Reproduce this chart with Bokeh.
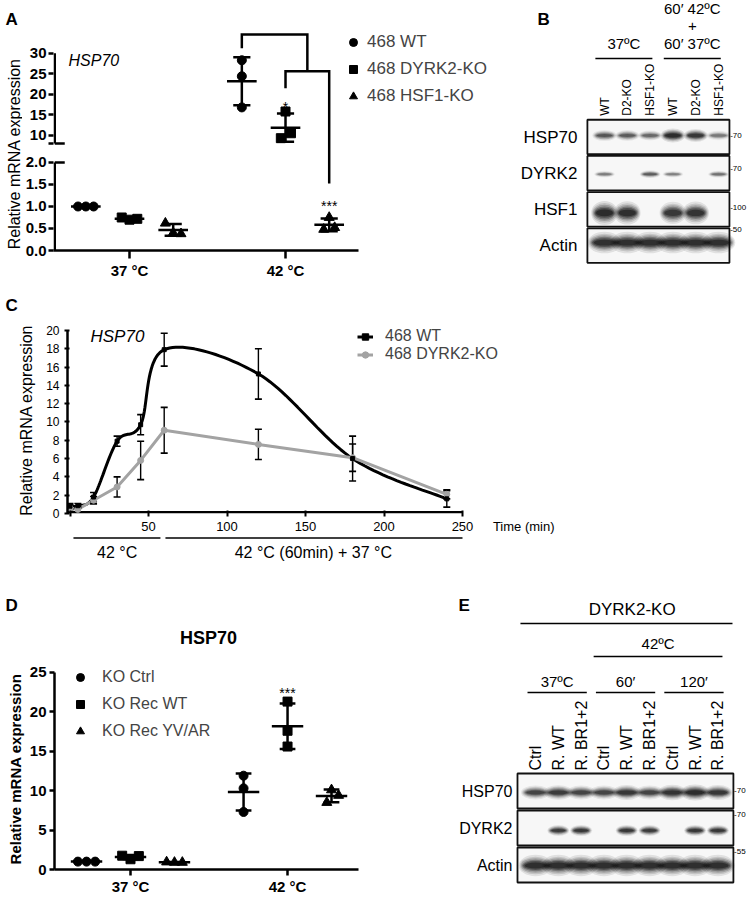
import math
import statistics as st
from bokeh.plotting import figure
from bokeh.models import Range1d, FixedTicker, Legend, LegendItem
from bokeh.layouts import column, row
from bokeh.embed import file_html
from bokeh.resources import INLINE
from bokeh.core.properties import value

FONT = "Liberation Sans"

# ---------------- data ----------------
# Panel A : HSP70 mRNA (three replicates per condition)
A_groups = ["37 °C", "42 °C"]
A_series = ["468 WT", "468 DYRK2-KO", "468 HSF1-KO"]
A_wt = [[1.00, 1.00, 1.00], [28.3, 24.4, 16.8]]
A_d2ko = [[0.75, 0.70, 0.72], [15.8, 10.5, 9.3]]
A_hsf1ko = [[0.62, 0.40, 0.38], [0.75, 0.48, 0.52]]
A_ticks_low = [0.0, 0.5, 1.0, 1.5, 2.0]
A_ticks_high = [10, 15, 20, 25, 30]
A_break = [2.0, 8.0]
A_stars = ["*", "***"]

# Panel B : western blot (band intensity 0..1)
B_lanes = ["WT", "D2-KO", "HSF1-KO", "WT", "D2-KO", "HSF1-KO"]
B_rows = ["HSP70", "DYRK2", "HSF1", "Actin"]
B_hsp70 = [0.55, 0.50, 0.40, 1.00, 0.85, 0.30]
B_dyrk2 = [0.28, 0.00, 0.50, 0.25, 0.00, 0.35]
B_hsf1 = [1.00, 0.95, 0.00, 0.85, 0.90, 0.00]
B_actin = [0.95, 0.95, 0.95, 0.95, 0.95, 0.95]
B_mw = ["70", "70", "100", "50"]
B_conditions = ["37ºC", "60′ 37ºC"]
B_header = ["60′ 42ºC", "+"]

# Panel C : time course
C_time = [0, 5, 15, 30, 45, 60, 120, 180, 240]
C_wt = [0.8, 0.85, 1.8, 7.9, 9.7, 17.9, 15.25, 6.0, 1.6]
C_wt_sd = [0.3, 0.25, 0.5, 0.55, 1.1, 1.8, 2.75, 2.45, 0.9]
C_ko = [0.6, 0.45, 1.45, 2.9, 5.8, 9.1, 7.55, 6.1, 2.1]
C_ko_sd = [0.35, 0.3, 0.4, 1.1, 2.1, 2.5, 1.65, 1.5, 0.5]
C_series = ["468 WT", "468 DYRK2-KO"]
C_xticks = [0, 50, 100, 150, 200, 250]
C_yticks = [0, 2, 4, 6, 8, 10, 12, 14, 16, 18, 20]
C_xlabel = "Time (min)"
C_phase_start = [0, 60]
C_phase_end = [60, 250]
C_phase_label = ["42 °C", "42 °C (60min) + 37 °C"]

# Panel D
D_groups = ["37 °C", "42 °C"]
D_series = ["KO Ctrl", "KO Rec WT", "KO Rec YV/AR"]
D_ctrl = [[1.0, 1.0, 1.0], [11.9, 10.3, 7.3]]
D_recwt = [[1.75, 1.3, 1.7], [21.3, 17.6, 15.6]]
D_yvar = [[0.95, 0.9, 0.9], [10.1, 8.5, 9.4]]
D_yticks = [0, 5, 10, 15, 20, 25]

# Panel E : western blot
E_lanes = ["Ctrl", "R. WT", "R. BR1+2"] * 3
E_rows = ["HSP70", "DYRK2", "Actin"]
E_hsp70 = [0.70, 0.80, 0.70, 0.70, 0.85, 0.70, 0.90, 1.00, 0.85]
E_dyrk2 = [0.00, 0.80, 0.85, 0.00, 0.85, 0.80, 0.00, 0.85, 0.85]
E_actin = [0.95, 0.95, 0.95, 0.95, 0.95, 0.95, 0.95, 0.95, 0.95]
E_mw = ["70", "70", "55"]
E_groups = ["37ºC", "60′", "120′"]


# ---------------- helpers ----------------
def finish(p):
    p.outline_line_color = None
    p.background_fill_color = "white"
    p.border_fill_color = "white"
    if "frame_align" in p.properties():
        p.frame_align = False
    return p


def axis_fig(**kw):
    p = figure(output_backend="svg", toolbar_location=None, tools="", **kw)
    p.grid.visible = False
    return finish(p)


def plain_fig(w, h, xr, yr):
    p = figure(width=w, height=h, x_range=xr, y_range=yr, x_axis_type=None, y_axis_type=None,
               output_backend="svg", toolbar_location=None, tools="", min_border=0,
               min_border_left=0, min_border_right=0, min_border_top=0, min_border_bottom=0)
    return finish(p)


def style_axis(ax, size, bold=False, lw=2.5, tin=0, tout=5, standoff=3):
    ax.major_label_text_font = FONT
    ax.major_label_text_font_size = size
    ax.major_label_text_font_style = "bold" if bold else "normal"
    ax.major_label_text_color = "black"
    ax.axis_line_width = lw
    ax.axis_line_color = "black"
    ax.major_tick_line_width = lw
    ax.major_tick_line_color = "black"
    ax.major_tick_in = tin
    ax.major_tick_out = tout
    ax.minor_tick_line_color = None
    ax.major_label_standoff = standoff
    ax.axis_label_text_font = FONT
    ax.axis_label_text_color = "black"


def txt(p, xs, ys, texts, size, style="normal", align="left", baseline="middle", angle=0.0):
    p.text(x=list(xs), y=list(ys), text=list(texts), text_font=value(FONT), text_font_size=value(size),
           text_font_style=value(style), text_align=align, text_baseline=baseline, angle=angle,
           text_color="black")


def dot_plot(p, series_vals, offsets, jitter, markers, sizes, ymap, mean_hw, cap_hw, lw):
    rends = []
    mx0, mx1, my = [], [], []
    ex, ey0, ey1 = [], [], []
    cx0, cx1, cy = [], [], []
    for s, vals in enumerate(series_vals):
        xs, ys = [], []
        for g, grp in enumerate(vals):
            cx = g + offsets[s]
            for k, v in enumerate(grp):
                xs.append(cx + jitter[g][s][k])
                ys.append(ymap(v))
            m = st.mean(grp)
            sd = st.stdev(grp)
            mx0.append(cx - mean_hw); mx1.append(cx + mean_hw); my.append(ymap(m))
            ex.append(cx); ey0.append(ymap(m - sd)); ey1.append(ymap(m + sd))
            for yy in (m - sd, m + sd):
                cx0.append(cx - cap_hw); cx1.append(cx + cap_hw); cy.append(ymap(yy))
        r = p.scatter(xs, ys, marker=markers[s], size=sizes[s], fill_color="black", line_color="black")
        rends.append(r)
    p.segment(ex, ey0, ex, ey1, line_width=lw, line_color="black")
    p.segment(mx0, my, mx1, my, line_width=lw, line_color="black")
    p.segment(cx0, cy, cx1, cy, line_width=lw, line_color="black")
    return rends


def blot(p, rows_vals, px_x, px_y, box_x0, box_x1, box_h, band_w, band_h, band_dy):
    n = len(rows_vals)
    ys = [n - 1 - r for r in range(n)]
    p.rect(x=[(box_x0 + box_x1) / 2] * n, y=ys, width=box_x1 - box_x0, height=box_h,
           fill_color="#f7f7f7", line_color="#111111", line_width=1.8)
    # soft bands: many faint concentric ellipses
    layers = [(1.16, 2.0, 0.10), (1.08, 1.65, 0.14), (1.00, 1.35, 0.20),
              (0.92, 1.08, 0.28), (0.84, 0.82, 0.38), (0.74, 0.55, 0.50)]
    for wf, hf, af in layers:
        X, Y, W, H, AL = [], [], [], [], []
        for r, vals in enumerate(rows_vals):
            for l, inten in enumerate(vals):
                if inten <= 0.02:
                    continue
                X.append(l)
                Y.append(n - 1 - r - band_dy[r] / px_y)
                W.append(band_w[r] * wf / px_x)
                H.append(band_h[r] * (0.55 + 0.45 * inten) * hf / px_y)
                AL.append(min(1.0, af * (0.2 + 0.8 * inten)))
        p.ellipse(x=X, y=Y, width=W, height=H, fill_color="#0c0c0c", fill_alpha=AL, line_color=None)


def smooth(xs, ys, sx, sy, n=24):
    P = [(x * sx, y * sy) for x, y in zip(xs, ys)]
    ox, oy = [], []
    for i in range(len(P) - 1):
        p0 = P[i - 1] if i > 0 else P[i]
        p1, p2 = P[i], P[i + 1]
        p3 = P[i + 2] if i + 2 < len(P) else P[i + 1]
        c1 = (p1[0] + (p2[0] - p0[0]) / 6, p1[1] + (p2[1] - p0[1]) / 6)
        c2 = (p2[0] - (p3[0] - p1[0]) / 6, p2[1] - (p3[1] - p1[1]) / 6)
        last = i == len(P) - 2
        for k in range(n + 1 if last else n):
            t = k / n
            a, b, c, d = (1 - t) ** 3, 3 * (1 - t) ** 2 * t, 3 * (1 - t) * t ** 2, t ** 3
            ox.append((a * p1[0] + b * c1[0] + c * c2[0] + d * p2[0]) / sx)
            oy.append((a * p1[1] + b * c1[1] + c * c2[1] + d * p2[1]) / sy)
    return ox, oy


# ================= Row 1 : panel A =================
stripA = plain_fig(22, 290, Range1d(0, 22), Range1d(290, 0))
txt(stripA, [5], [19], ["A"], "17px", style="bold")
txt(stripA, [14], [151], ["Relative  mRNA expression"], "16px", align="center", angle=math.pi / 2)

A_PXX, A_PXY = 156.0, 44.0
A_UP = 4.1 / A_PXY


def a_y(v):
    if v <= A_break[0] + 1e-9:
        return v
    return A_break[0] + 19.0 / A_PXY + (v - A_break[1]) * A_UP


A_X0, A_X1, A_Y1 = -0.4872, 2.346, 5.227
pA = axis_fig(width=478, height=290, x_range=Range1d(A_X0, A_X1), y_range=Range1d(0, A_Y1),
              min_border_left=31, min_border_right=5, min_border_top=20, min_border_bottom=40)
style_axis(pA.xaxis[0], "15px", bold=True, tout=8, standoff=3)
pA.xaxis.ticker = FixedTicker(ticks=[0, 1])
pA.xaxis.major_label_overrides = {0: A_groups[0], 1: A_groups[1]}
pA.xaxis.bounds = (A_X0, A_X0 + (358 - 53) / A_PXX)

style_axis(pA.yaxis[0], "15px", bold=True, tout=5, standoff=2)
pA.yaxis.axis_line_color = None
a_ticks, a_over = [], {}
for v in A_ticks_low:
    t = round(a_y(v), 6); a_ticks.append(t); a_over[t] = "%.1f" % v
for v in A_ticks_high:
    t = round(a_y(v), 6); a_ticks.append(t); a_over[t] = "%d" % v
t8 = round(a_y(A_break[1]), 6); a_ticks.append(t8); a_over[t8] = ""
pA.yaxis.ticker = FixedTicker(ticks=a_ticks)
pA.yaxis.major_label_overrides = a_over

# broken y-axis line (two pieces) with end bars at the break
ax_x = A_X0 + 1.25 / A_PXX
pA.segment([ax_x, ax_x], [0, a_y(A_break[1])], [ax_x, ax_x], [a_y(A_break[0]), a_y(30)],
           line_width=2.5, line_color="black")
pA.segment([ax_x, ax_x], [a_y(A_break[0]), a_y(A_break[1])],
           [ax_x + 10 / A_PXX, ax_x + 10 / A_PXX], [a_y(A_break[0]), a_y(A_break[1])],
           line_width=2.5, line_color="black")

A_off = [-0.28, 0.0, 0.28]
A_jit = [[[-0.05, 0, 0.05], [-0.05, 0, 0.05], [-0.05, 0, 0.05]],
         [[0, 0, 0], [0, 0.035, -0.03], [0, -0.035, 0.035]]]
rA = dot_plot(pA, [A_wt, A_d2ko, A_hsf1ko], A_off, A_jit, ["circle", "square", "triangle"],
              [9, 9, 10], a_y, 0.095, 0.055, 2.5)

xw, xk, xh = 1 + A_off[0], 1 + A_off[1], 1 + A_off[2]
xm = (xk + xh) / 2
pA.multi_line(xs=[[xw, xw, xm, xm], [xk, xk, xh, xh]],
              ys=[[a_y(31.2), a_y(34.6), a_y(34.6), a_y(25.6)],
                  [a_y(21.5), a_y(25.6), a_y(25.6), a_y(1.52)]],
              line_width=2.5, line_color="black", line_join="miter")
txt(pA, [xk, xh], [a_y(17.0), a_y(1.0)], A_stars, "14px", align="center", baseline="alphabetic")
txt(pA, [-0.391], [a_y(28.2)], ["HSP70"], "16px", style="italic")

legA = Legend(items=[LegendItem(label=A_series[i], renderers=[rA[i]]) for i in range(3)],
              location=(290, 144), glyph_width=20, glyph_height=20, label_height=20, spacing=7,
              label_standoff=4, padding=0, margin=0, border_line_color=None, background_fill_alpha=0,
              label_text_font=FONT, label_text_font_size="17px")
pA.add_layout(legA)

# ================= Row 1 : panel B =================
B_PXX, B_PXY = 22.8, 36.2
B_L0, B_R0 = 604.0, 136.5   # page position of lane 0 and of the top row centre


def bx(px):
    return (px - B_L0) / B_PXX


def by(py):
    return len(B_rows) - 1 + (B_R0 - py) / B_PXY


pB = plain_fig(247, 290, Range1d(bx(500), bx(747)), Range1d(by(290), by(0)))
nB = len(B_rows)
B_box = (-0.75, 5.48, 0.953)
blot(pB, [B_hsp70, B_dyrk2, B_hsf1, B_actin], B_PXX, B_PXY, *B_box,
     band_w=[21, 18, 23, 29], band_h=[7, 5, 12, 11], band_dy=[-1.5, 1, 3.5, -3])
txt(pB, [B_box[0] - 10 / B_PXX] * nB, [nB - 1 - i for i in range(nB)], B_rows, "17px", align="right")
lane_y = nB - 1 + B_box[2] / 2 + 4 / B_PXY
txt(pB, range(len(B_lanes)), [lane_y] * len(B_lanes), B_lanes, "12px", angle=math.pi / 2)
B_spans = [(0, 2), (3, 5)]
rx0, rx1, ry = [], [], []
for (l0, l1), t in zip(B_spans, B_conditions):
    x0, x1 = l0 - 0.4, l1 + 0.1
    rx0.append(x0); rx1.append(x1); ry.append(by(58))
    txt(pB, [(x0 + x1) / 2], [by(43)], [t], "15px", align="center")
pB.segment(rx0, ry, rx1, ry, line_width=1.3, line_color="black")
xc2 = (B_spans[1][0] - 0.4 + B_spans[1][1] + 0.1) / 2
txt(pB, [xc2], [by(25)], [B_header[1]], "15px", align="center")
txt(pB, [xc2], [by(7.5)], [B_header[0]], "15px", align="center")
B_mw_dy = [-1.5, -5, -1.5, -16]
txt(pB, [B_box[1] + 0.03] * nB, [nB - 1 - i - B_mw_dy[i] / B_PXY for i in range(nB)],
    ["-" + m for m in B_mw], "8px")
txt(pB, [bx(537)], [by(19)], ["B"], "17px", style="bold")

# ================= Row 2 : panel C =================
C_PXX, C_PXY = 1.57, 9.15
C_X0PX = 69.5   # page x of time 0


def cx(px):
    return (px - C_X0PX) / C_PXX


stripC = plain_fig(747, 30, Range1d(0, 747), Range1d(30, 0))
txt(stripC, [5], [15], ["C"], "17px", style="bold")

C_XS, C_XE = cx(67), cx(737)
pC = axis_fig(width=747, height=216, x_range=Range1d(C_XS, C_XE), y_range=Range1d(0, 20.87),
              min_border_left=67, min_border_right=10, min_border_top=2, min_border_bottom=23)
C_TLAB = round(cx(523))
style_axis(pC.xaxis[0], "13px", tin=0, tout=3, standoff=2)
pC.xaxis.axis_line_color = None
pC.xaxis.major_tick_line_color = None
pC.xaxis.ticker = FixedTicker(ticks=C_xticks[1:] + [C_TLAB], minor_ticks=C_xticks)
pC.xaxis.major_label_overrides = {C_TLAB: C_xlabel}
pC.xaxis.minor_tick_line_color = "black"
pC.xaxis.minor_tick_line_width = 2
pC.xaxis.minor_tick_in = 3
pC.xaxis.minor_tick_out = 3
pC.xaxis.bounds = (C_XS, C_TLAB + 1)
pC.segment([C_XS], [1.25 / C_PXY], [C_xticks[-1]], [1.25 / C_PXY], line_width=2.5, line_color="black")
style_axis(pC.yaxis[0], "12px", tin=2, tout=3, standoff=5)
pC.yaxis.major_tick_line_width = 2
pC.yaxis.ticker = FixedTicker(ticks=C_yticks)
pC.yaxis.bounds = (0, 20)
pC.yaxis.axis_label = "Relative  mRNA expression"
pC.yaxis.axis_label_text_font_style = "normal"
pC.yaxis.axis_label_text_font_size = "16px"
pC.yaxis.axis_label_standoff = 8

sx, sy = smooth(C_time, C_wt, C_PXX, C_PXY)
l_wt = pC.line(sx, sy, line_width=3, line_color="black")
l_ko = pC.line(C_time, C_ko, line_width=3, line_color="#a3a3a3")
for mean_v, sd_v in ((C_wt, C_wt_sd), (C_ko, C_ko_sd)):
    lo = [m - s for m, s in zip(mean_v, sd_v)]
    hi = [m + s for m, s in zip(mean_v, sd_v)]
    pC.segment(C_time, lo, C_time, hi, line_width=1.4, line_color="black")
    pC.scatter(C_time + C_time, lo + hi, marker="dash", size=7, line_width=1.6, line_color="black")
m_ko = pC.scatter(C_time, C_ko, marker="circle", size=6, fill_color="#a3a3a3", line_color="#a3a3a3")
m_wt = pC.scatter(C_time, C_wt, marker="square", size=4, fill_color="black", line_color="black")
txt(pC, [cx(90)], [(513 - 336) / C_PXY], ["HSP70"], "17px", style="italic")
legC = Legend(items=[LegendItem(label=C_series[0], renderers=[l_wt, m_wt]),
                     LegendItem(label=C_series[1], renderers=[l_ko, m_ko])],
              location=(290, 150), glyph_width=16, glyph_height=17, label_height=17, spacing=0,
              label_standoff=12, padding=0, margin=0, border_line_color=None, background_fill_alpha=0,
              label_text_font=FONT, label_text_font_size="16px")
pC.add_layout(legC)

stripCb = plain_fig(747, 55, Range1d(cx(0), cx(747)), Range1d(55, 0))
px0, px1 = [], []
for s0, s1 in zip(C_phase_start, C_phase_end):
    px0.append(s0 + (2.2 if s0 == 0 else 0.8))
    px1.append(s1 - (2.4 if s1 < C_xticks[-1] else 0))
stripCb.segment(px0, [1.5, 1.5], px1, [1.5, 1.5], line_width=1.3, line_color="black")
txt(stripCb, [(a + b) / 2 for a, b in zip(C_phase_start, C_phase_end)], [16, 16], C_phase_label,
    "16px", align="center")

# ================= Row 3 : panel D =================
D_PXX, D_PXY = 157.0, 8.0
D_X0 = -0.484
stripD = plain_fig(380, 69, Range1d(0, 380), Range1d(69, 0))
txt(stripD, [5], [14], ["D"], "17px", style="bold")
txt(stripD, [208], [46], ["HSP70"], "18px", style="bold", align="center")

pD = axis_fig(width=380, height=237, x_range=Range1d(D_X0, 1.541), y_range=Range1d(0, 25.5),
              min_border_left=54, min_border_right=8, min_border_top=8, min_border_bottom=25)
style_axis(pD.xaxis[0], "15px", bold=True, tout=6, standoff=2)
pD.xaxis.ticker = FixedTicker(ticks=[0, 1])
pD.xaxis.major_label_overrides = {0: D_groups[0], 1: D_groups[1]}
pD.xaxis.bounds = (D_X0, D_X0 + (358 - 54) / D_PXX)
style_axis(pD.yaxis[0], "15px", bold=True, tout=5, standoff=3)
pD.yaxis.ticker = FixedTicker(ticks=D_yticks)
pD.yaxis.bounds = (0, 25)
pD.yaxis.axis_label = "Relative mRNA expression"
pD.yaxis.axis_label_text_font_style = "bold"
pD.yaxis.axis_label_text_font_size = "15px"
pD.yaxis.axis_label_standoff = 3

D_off = [-0.28, 0.0, 0.28]
D_jit = [[[-0.055, 0, 0.055], [-0.053, 0, 0.053], [-0.05, 0, 0.05]],
         [[0, 0, 0], [0, 0, 0], [0, -0.03, 0.045]]]
rD = dot_plot(pD, [D_ctrl, D_recwt, D_yvar], D_off, D_jit, ["circle", "square", "triangle"],
              [9, 9, 10], lambda v: v, 0.1, 0.05, 2.5)
txt(pD, [1 + D_off[1]], [22.45], ["***"], "14px", align="center", baseline="alphabetic")
legD = Legend(items=[LegendItem(label=D_series[i], renderers=[rD[i]]) for i in range(3)],
              location=(16, 128), glyph_width=20, glyph_height=20, label_height=20, spacing=7,
              label_standoff=12, padding=0, margin=0, border_line_color=None, background_fill_alpha=0,
              label_text_font=FONT, label_text_font_size="16px")
pD.add_layout(legD)

# ================= Row 3 : panel E =================
E_PXX, E_PXY = 22.8, 37.0
E_L0, E_R0, E_TOP = 535.0, 790.5, 591.0


def ex_(px):
    return (px - E_L0) / E_PXX


def ey(py):
    return len(E_rows) - 1 + (E_R0 - py) / E_PXY


pE = plain_fig(367, 306, Range1d(ex_(380), ex_(747)), Range1d(ey(897), ey(E_TOP)))
nE = len(E_rows)
E_box = (-0.79, 8.68, 0.946)
blot(pE, [E_hsp70, E_dyrk2, E_actin], E_PXX, E_PXY, *E_box,
     band_w=[25, 19, 29], band_h=[8, 6, 11], band_dy=[1.5, 2.5, 0.5])
txt(pE, [E_box[0] - 5 / E_PXX] * nE, [nE - 1 - i for i in range(nE)], E_rows, "16px", align="right")
lane_y = nE - 1 + E_box[2] / 2 + 3 / E_PXY
txt(pE, range(len(E_lanes)), [lane_y] * len(E_lanes), E_lanes, "16px", angle=math.pi / 2)
E_spans = [(0, 2), (3, 5), (6, 8)]
rx0, rx1, ry = [], [], []
for (l0, l1), t in zip(E_spans, E_groups):
    x0, x1 = l0 - 0.35, l1 + 0.25
    rx0.append(x0); rx1.append(x1); ry.append(ey(692))
    txt(pE, [(x0 + x1) / 2], [ey(681)], [t], "15px", align="center")
x0, x1 = 3 - 0.45, 8 + 0.2
rx0.append(x0); rx1.append(x1); ry.append(ey(656))
txt(pE, [(x0 + x1) / 2], [ey(643)], ["42ºC"], "15px", align="center")
x0, x1 = -0.66, 8.64
rx0.append(x0); rx1.append(x1); ry.append(ey(623))
txt(pE, [(x0 + x1) / 2 + 0.25], [ey(609)], ["DYRK2-KO"], "17px", align="center")
pE.segment(rx0, ry, rx1, ry, line_width=1.3, line_color="black")
E_mw_dy = [-0.5, -13.5, -13.5]
txt(pE, [E_box[1] + 0.03] * nE, [nE - 1 - i - E_mw_dy[i] / E_PXY for i in range(nE)],
    ["-" + m for m in E_mw], "8px")
txt(pE, [ex_(458)], [ey(605)], ["E"], "17px", style="bold")

layout = column(
    row(stripA, pA, pB, spacing=0),
    column(stripC, pC, stripCb, spacing=0),
    row(column(stripD, pD, spacing=0), pE, spacing=0),
    spacing=0,
)
open("out.html", "w").write(file_html(layout, INLINE, "HSP70 figure"))
